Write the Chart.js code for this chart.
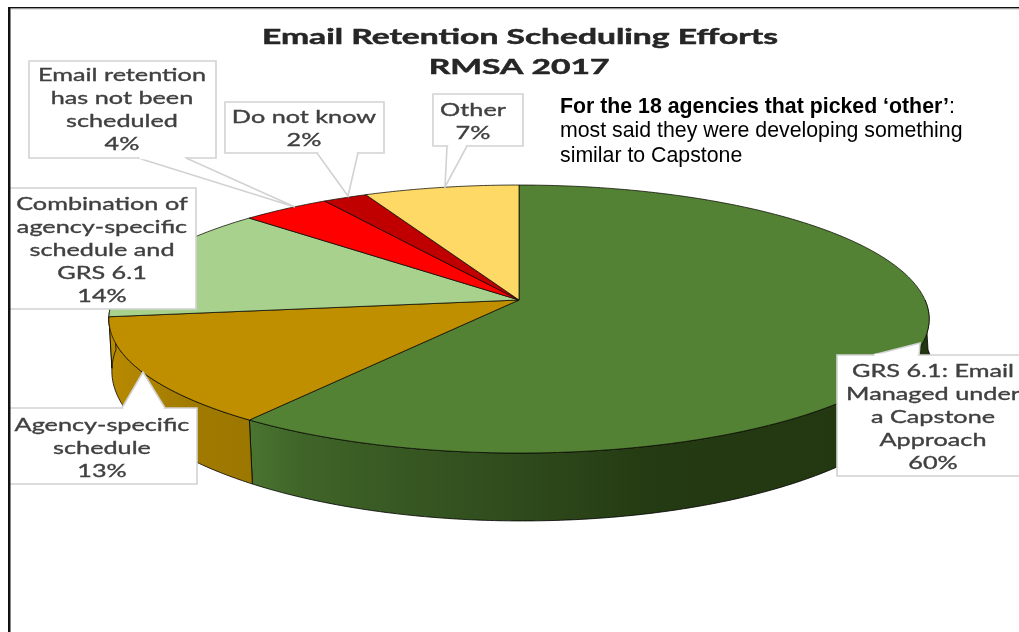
<!DOCTYPE html>
<html><head><meta charset="utf-8">
<style>html,body{margin:0;padding:0;background:#fff;overflow:hidden}canvas{display:block}</style>
<script src="https://cdn.jsdelivr.net/npm/chart.js@4"></script>
</head><body>
<div style="width:1019px;height:632px"><canvas id="c" width="1019" height="632"></canvas></div>
<script>
const categories = [
  ["GRS 6.1: Email","Managed under","a Capstone","Approach"],
  ["Agency-specific","schedule"],
  ["Combination of","agency-specific","schedule and","GRS 6.1"],
  ["Email retention","has not been","scheduled"],
  ["Do not know"],
  ["Other"]
];
const values = [60,13,14,4,2,7];
const colors = ["#548235","#BF8F00","#A9D18E","#FF0000","#C00000","#FFD966"];
const titleLines = ["Email Retention Scheduling Efforts","RMSA 2017"];
const noteBold = "For the 18 agencies that picked ‘other’";
const noteLines = ["most said they were developing something","similar to Capstone"];

// callout geometry, same order as categories
const callouts = [
  {box:[837,355,190,121],cx:933,y:377,leader:[[873,355],[920,343],[919,355]]},
  {box:[9,408,188,76],cx:102,y:431,leader:[[122,408],[143,372],[165,408]]},
  {box:[9,188,187,121],cx:102,y:210,leader:null},
  {box:[29,61,187,97],cx:122,y:81,leader:[[138,158],[295,207],[186,158]]},
  {box:[225,102,159,51],cx:304,y:123,leader:[[317,153],[348,196],[358,153]]},
  {box:[433,94,90,52],cx:473,y:115.5,leader:[[447,146],[445,187],[467,146]]}
];

// perspective view of the pie disc
const P = {top:{cx:519,cy:300,R:406,A:131.3,k:0.142}, bot:{cx:522,cy:349.6,R:406,A:147,k:0.142}};
function proj(a, f){
  const u=Math.cos(a), v=Math.sin(a), w=1-f.k*v;
  return [f.cx+f.R*u/w, f.cy+f.A*v/w];
}
function arcPts(a0,a1,f){
  const n=Math.max(2,Math.ceil((a1-a0)/0.01)), pts=[];
  for(let i=0;i<=n;i++) pts.push(proj(a0+(a1-a0)*i/n,f));
  return pts;
}
function poly(ctx,pts){ctx.beginPath();pts.forEach((p,i)=>i?ctx.lineTo(p[0],p[1]):ctx.moveTo(p[0],p[1]));ctx.closePath();}
function stretched(ctx,t,cx,y,sx,bold){
  ctx.save();ctx.translate(cx,y);ctx.scale(sx,1);ctx.textAlign='center';ctx.textBaseline='alphabetic';
  ctx.fillText(t,0,0);
  ctx.strokeStyle=ctx.fillStyle;ctx.lineWidth=bold;ctx.strokeText(t,0,0);
  ctx.restore();
}

const pie3d = {
  id:'pie3d',
  beforeDatasetsDraw(chart){
    const ctx=chart.ctx, arcs=chart.getDatasetMeta(0).data;
    ctx.save();
    ctx.filter='blur(0.5px)';
    ctx.lineJoin='round';
    // side wall (front half only)
    const gG=ctx.createLinearGradient(248,0,930,0);
    gG.addColorStop(0,'#4a7530');gG.addColorStop(.08,'#3f6428');gG.addColorStop(.4,'#2f4a1c');gG.addColorStop(.6,'#243a12');gG.addColorStop(1,'#223711');
    const gB=ctx.createLinearGradient(110,0,252,0);
    gB.addColorStop(0,'#b88a00');gB.addColorStop(.6,'#a07a00');gB.addColorStop(1,'#9c7700');
    arcs.forEach((el,i)=>{
      const p=el.getProps(['startAngle','endAngle'],true);
      const a0=Math.max(p.startAngle,0), a1=Math.min(p.endAngle,Math.PI);
      if(a1<=a0) return;
      const pts=arcPts(a0,a1,P.top).concat(arcPts(a0,a1,P.bot).reverse());
      poly(ctx,pts);
      ctx.fillStyle=i===0?gG:gB;ctx.fill();
      ctx.strokeStyle='rgba(0,0,0,.8)';ctx.lineWidth=1;ctx.stroke();
    });
    // top face
    arcs.forEach(el=>{
      const p=el.getProps(['startAngle','endAngle'],true);
      const pts=[[P.top.cx,P.top.cy]].concat(arcPts(p.startAngle,p.endAngle,P.top));
      poly(ctx,pts);
      ctx.fillStyle=el.options.backgroundColor;ctx.fill();
      ctx.strokeStyle='rgba(10,10,0,.75)';ctx.lineWidth=1;ctx.stroke();
    });
    ctx.restore();
    return false;
  },
  afterDraw(chart){
    const ctx=chart.ctx, data=chart.data.datasets[0].data;

    // title
    ctx.save();
    ctx.filter='blur(0.6px)';
    ctx.font='bold 21px Lato';ctx.fillStyle='#262626';
    const sxT=516/ctx.measureText(titleLines[0]).width;
    stretched(ctx,titleLines[0],520,44,sxT,.5);
    stretched(ctx,titleLines[1],519,74,sxT,.5);
    ctx.restore();

    // callouts
    ctx.save();
    ctx.filter='blur(0.5px)';
    callouts.forEach((c,i)=>{
      const [x,y,w,h]=c.box;
      ctx.fillStyle='#fff';ctx.strokeStyle='#d2d2d2';ctx.lineWidth=1.6;
      ctx.beginPath();ctx.rect(x,y,w,h);ctx.fill();ctx.stroke();
      if(c.leader){
        ctx.beginPath();c.leader.forEach((p,j)=>j?ctx.lineTo(p[0],p[1]):ctx.moveTo(p[0],p[1]));
        ctx.closePath();ctx.fill();
        ctx.beginPath();c.leader.forEach((p,j)=>j?ctx.lineTo(p[0],p[1]):ctx.moveTo(p[0],p[1]));
        ctx.stroke();
        // clear the border under the leader's mouth
        const a=c.leader[0], b=c.leader[c.leader.length-1];
        ctx.strokeStyle='#fff';ctx.lineWidth=2.4;ctx.beginPath();ctx.moveTo(a[0]+1.5,a[1]);ctx.lineTo(b[0]-1.5,b[1]);ctx.stroke();
      }
    });
    ctx.font='18px Lato';ctx.fillStyle='#404040';
    const sxL=168/ctx.measureText('Email retention').width;
    callouts.forEach((c,i)=>{
      const lines=categories[i].concat([data[i]+'%']);
      lines.forEach((t,j)=>stretched(ctx,t,c.cx,c.y+j*23,sxL,.35));
    });
    ctx.restore();

    // frame
    ctx.save();
    ctx.fillStyle='#fff';ctx.fillRect(0,0,8,632);
    ctx.fillStyle='#111';
    ctx.fillRect(8,7,2.5,625);
    ctx.fillRect(8,7,1011,1.5);
    ctx.fillStyle='#aaa';ctx.fillRect(10.5,8.5,1009,.8);
    ctx.restore();

    // note
    ctx.save();
    ctx.fillStyle='#000';ctx.textAlign='left';ctx.textBaseline='alphabetic';
    ctx.font='bold 21.3px "Liberation Sans"';
    ctx.fillText(noteBold,560,112.7);
    const bw=ctx.measureText(noteBold).width;
    ctx.font='21.3px "Liberation Sans"';
    ctx.fillText(':',560+bw,112.7);
    noteLines.forEach((t,i)=>ctx.fillText(t,560,137.3+i*25));
    ctx.restore();
  }
};

new Chart(document.getElementById('c'),{
  type:'pie',
  data:{labels:categories.map(l=>l.join(' ')),datasets:[{data:values,backgroundColor:colors,borderWidth:0}]},
  options:{responsive:false,animation:false,events:[],
    plugins:{legend:{display:false},tooltip:{enabled:false},title:{display:false}}},
  plugins:[pie3d]
});
</script>
</body></html>
